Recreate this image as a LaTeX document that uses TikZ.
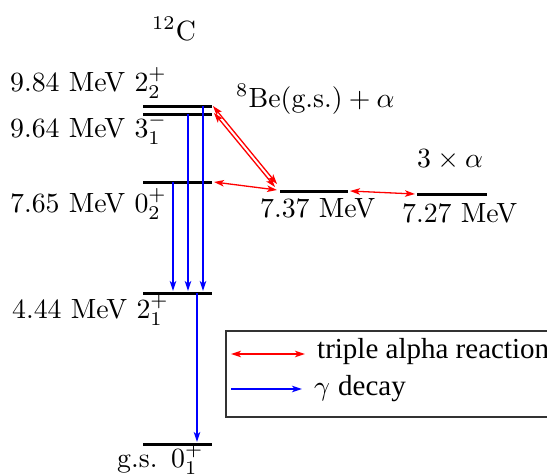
\documentclass[tikz,border=0pt]{standalone}
\usepackage{fontspec}
\usepackage{graphicx}
\newfontfamily\legfont{Liberation Serif}
\usetikzlibrary{arrows.meta}
\newcommand{\bigtxt}[1]{\scalebox{2.78}{#1}}
\begin{document}
\begin{tikzpicture}[x=1pt,y=-1pt,
  lbl/.style={anchor=base west,inner sep=0pt},
  leg/.style={anchor=base west,inner sep=0pt,font=\fontsize{29}{34}\selectfont\legfont},
  level/.style={line width=3pt,black},
  redarr/.style={red,line width=1.3pt,{Stealth[length=10pt,width=6.5pt,inset=2.5pt]}-{Stealth[length=10pt,width=6.5pt,inset=2.5pt]}},
  bluearr/.style={blue,line width=1.3pt,-{Stealth[length=10pt,width=6.5pt,inset=2.5pt]}}]
\useasboundingbox (0,0) rectangle (547,475);
% level end points
\coordinate (a1) at (143,106); \coordinate (a2) at (212,106);
\coordinate (b1) at (143,114); \coordinate (b2) at (212,114);
\coordinate (c1) at (143,182); \coordinate (c2) at (212,182);
\coordinate (d1) at (143,293); \coordinate (d2) at (212,293);
\coordinate (e1) at (143,444); \coordinate (e2) at (212,444);
\coordinate (f1) at (280,191); \coordinate (f2) at (348,191);
\coordinate (g1) at (417,194); \coordinate (g2) at (487,194);
\draw[level] (a1) -- (a2);
\draw[level] (b1) -- (b2);
\draw[level] (c1) -- (c2);
\draw[level] (d1) -- (d2);
\draw[level] (e1) -- (e2);
\draw[level] (f1) -- (f2);
\draw[level] (g1) -- (g2);
% labels
\node[lbl] (t12c) at (152,40) {\bigtxt{$^{12}$C}};
\node[lbl] (l984) at (10,91) {\bigtxt{9.84 MeV $2_2^+$}};
\node[lbl] (l964) at (10,137) {\bigtxt{9.64 MeV $3_1^-$}};
\node[lbl] (l765) at (10,212) {\bigtxt{7.65 MeV $0_2^+$}};
\node[lbl] (l444) at (12,318) {\bigtxt{4.44 MeV $2_1^+$}};
\node[lbl] (lgs) at (117,467) {\bigtxt{g.s.}};
\node[lbl] (lgsj) at (171,467) {\bigtxt{$0_1^+$}};
\node[lbl] (lbe) at (236,107) {\bigtxt{$^{8}\mathrm{Be(g.s.)}+\alpha$}};
\node[lbl] (l3a) at (417,167) {\bigtxt{$3\times\alpha$}};
\node[lbl] (l737) at (260,217) {\bigtxt{7.37 MeV}};
\node[lbl] (l727) at (402,222) {\bigtxt{7.27 MeV}};
% gamma decays
\coordinate (s1) at (173,182); \coordinate (t1) at (173,291);
\coordinate (s2) at (188,114); \coordinate (t2) at (188,291);
\coordinate (s3) at (203,106); \coordinate (t3) at (203,291);
\coordinate (s4) at (197,293); \coordinate (t4) at (197,442);
\draw[bluearr] (s1) -- (t1);
\draw[bluearr] (s2) -- (t2);
\draw[bluearr] (s3) -- (t3);
\draw[bluearr] (s4) -- (t4);
% triple alpha
\coordinate (r1) at (213,106); \coordinate (q1) at (277,184);
\coordinate (r2) at (214,113); \coordinate (q2) at (275,187);
\coordinate (r3) at (214,182); \coordinate (q3) at (277,190);
\coordinate (r4) at (350,191); \coordinate (q4) at (415,194);
\draw[redarr] (r1) -- (q1);
\draw[redarr] (r2) -- (q2);
\draw[redarr] (r3) -- (q3);
\draw[redarr] (r4) -- (q4);
% legend
\node[draw=black!80,line width=1.6pt,minimum width=340pt,minimum height=86pt,anchor=north west,inner sep=0pt] (box) at (225,330) {};
\coordinate (la1) at (231,354); \coordinate (la2) at (305,354);
\coordinate (lb1) at (231,389); \coordinate (lb2) at (302,389);
\draw[redarr] (la1) -- (la2);
\draw[bluearr] (lb1) -- (lb2);
\node[leg] (ltr) at (317,358) {triple alpha reaction};
\node[lbl] (lgg) at (314,395) {\bigtxt{$\gamma$}};
\node[leg] (lgd) at (338,395) {decay};
\end{tikzpicture}
\end{document}
